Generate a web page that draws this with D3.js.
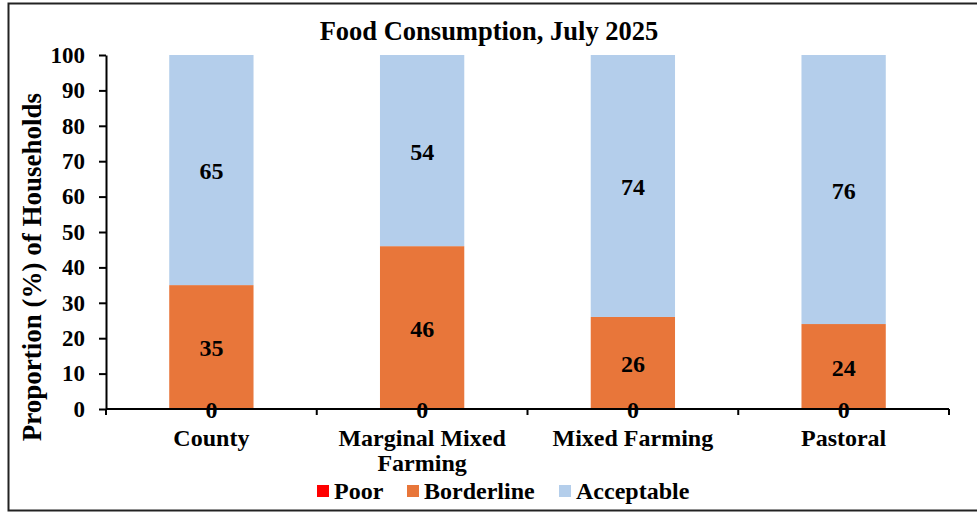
<!DOCTYPE html>
<html>
<head>
<meta charset="utf-8">
<script src="https://cdn.jsdelivr.net/npm/d3@7"></script>
<style>
  html, body { margin: 0; padding: 0; background: #fff; }
  svg { display: block; font-family: "Liberation Serif", "Times New Roman", serif; }
</style>
</head>
<body>
<svg id="chart" width="977" height="512"></svg>
<script>
// Food consumption score groups by livelihood zone
const categories = [["County"], ["Marginal Mixed", "Farming"], ["Mixed Farming"], ["Pastoral"]];
const seriesNames = ["Poor", "Borderline", "Acceptable"];
const poor = [0, 0, 0, 0];
const borderline = [35, 46, 26, 24];
const acceptable = [65, 54, 74, 76];
const yTicks = [0, 10, 20, 30, 40, 50, 60, 70, 80, 90, 100];
const colors = ["#FF0000", "#E8763A", "#B4CEEB"];

const svg = d3.select("#chart");
const margin = { left: 106, right: 28, top: 55, bottom: 103 };
const W = 977, H = 512;
const FS = 24;

// outer frame
svg.append("rect")
  .attr("x", 8.5).attr("y", 3.5)
  .attr("width", 1000).attr("height", 507)
  .attr("fill", "none").attr("stroke", "#222").attr("stroke-width", 2);

const keys = categories.map(c => c.join(" "));
const x = d3.scaleBand().domain(keys).range([margin.left, W - margin.right]).paddingInner(0.6).paddingOuter(0.3);
const y = d3.scaleLinear().domain([0, 100]).range([H - margin.bottom, margin.top]);

const rows = keys.map((k, i) => ({ key: k, Poor: poor[i], Borderline: borderline[i], Acceptable: acceptable[i] }));
const stacked = d3.stack().keys(seriesNames)(rows);

// bars
stacked.forEach((layer, li) => {
  svg.append("g").selectAll("rect").data(layer).join("rect")
    .attr("x", d => x(d.data.key))
    .attr("width", x.bandwidth())
    .attr("y", d => y(d[1]))
    .attr("height", d => y(d[0]) - y(d[1]))
    .attr("fill", colors[li]);
});

// y axis
const yAxis = svg.append("g")
  .attr("transform", `translate(${margin.left},0)`)
  .call(d3.axisLeft(y).tickValues(yTicks).tickSize(7).tickSizeOuter(0).tickPadding(14));
yAxis.select(".domain").attr("stroke", "#000").attr("stroke-width", 2);
yAxis.selectAll(".tick line").attr("stroke", "#000").attr("stroke-width", 2);
yAxis.selectAll(".tick text")
  .attr("font-family", "Liberation Serif").attr("font-weight", "bold")
  .attr("font-size", 23).attr("fill", "#000");

// x axis line with boundary ticks between categories
const x0 = margin.left, x1 = W - margin.right;
const yBase = y(0);
svg.append("line").attr("x1", x0).attr("x2", x1).attr("y1", yBase).attr("y2", yBase)
  .attr("stroke", "#000").attr("stroke-width", 2);
const boundaries = d3.range(keys.length + 1).map(i => x0 + i * (x1 - x0) / keys.length);
svg.append("g").selectAll("line").data(boundaries).join("line")
  .attr("x1", d => d).attr("x2", d => d)
  .attr("y1", yBase).attr("y2", yBase + 6)
  .attr("stroke", "#000").attr("stroke-width", 2);

// category labels
categories.forEach((lines, i) => {
  const cx = x(keys[i]) + x.bandwidth() / 2;
  const t = svg.append("text")
    .attr("x", cx)
    .attr("y", 446)
    .attr("text-anchor", "middle")
    .attr("font-weight", "bold").attr("font-size", FS).attr("fill", "#000");
  lines.forEach((ln, j) => {
    t.append("tspan").attr("x", cx).attr("dy", j === 0 ? 0 : 25).text(ln);
  });
});

// data labels
stacked.forEach((layer, li) => {
  svg.append("g").selectAll("text").data(layer).join("text")
    .attr("x", d => x(d.data.key) + x.bandwidth() / 2)
    .attr("y", d => y((d[0] + d[1]) / 2) + 9)
    .attr("text-anchor", "middle")
    .attr("font-weight", "bold").attr("font-size", FS).attr("fill", "#000")
    .text(d => d[1] - d[0]);
});

// title
svg.append("text")
  .attr("x", 489).attr("y", 40)
  .attr("text-anchor", "middle")
  .attr("font-weight", "bold").attr("font-size", 26.5).attr("fill", "#000")
  .text("Food Consumption, July 2025");

// y axis title
svg.append("text")
  .attr("transform", `translate(41, 267) rotate(-90)`)
  .attr("text-anchor", "middle")
  .attr("font-weight", "bold").attr("font-size", 27).attr("fill", "#000")
  .text("Proportion (%) of Households");

// legend
const legendX = [317, 407, 559];
const legend = svg.append("g");
seriesNames.forEach((name, i) => {
  legend.append("rect")
    .attr("x", legendX[i]).attr("y", 485)
    .attr("width", 12).attr("height", 12)
    .attr("fill", colors[i]);
  legend.append("text")
    .attr("x", legendX[i] + 17).attr("y", 499)
    .attr("font-weight", "bold").attr("font-size", FS).attr("fill", "#000")
    .text(name);
});
</script>
</body>
</html>
